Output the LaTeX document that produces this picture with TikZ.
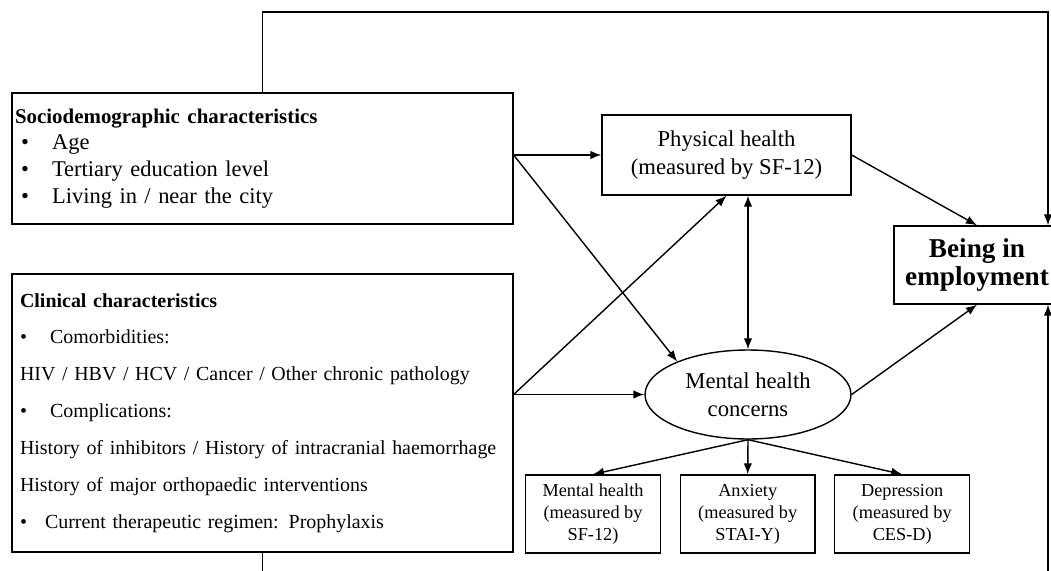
\documentclass[tikz,border=0pt]{standalone}
\usepackage{fontspec}
\setmainfont{Liberation Serif}
\usetikzlibrary{arrows.meta}
\usetikzlibrary{positioning,shapes.geometric}
\tikzset{
	rectnode/.style={rectangle, draw, line width=0.8pt, inner sep=0pt},
	roundnode/.style={ellipse, draw, line width=0.8pt, inner sep=0pt, minimum width=4.12cm, minimum height=1.78cm},
	arr/.style={-{Latex[length=0.22cm,width=0.17cm]}, line width=0.8pt},
	dblarr/.style={{Latex[length=0.22cm,width=0.17cm]}-{Latex[length=0.22cm,width=0.17cm]}, line width=0.8pt},
	midfont/.style={font=\fontsize{12.9pt}{16pt}\selectfont},
	smallfont/.style={font=\fontsize{10.4pt}{12.5pt}\selectfont}
}
\newcommand{\bul}[1]{\makebox[#1][l]{\textbullet}}

\begin{document}
\begin{tikzpicture}[x=0.02cm, y=-0.02cm]
	\useasboundingbox (0,0) rectangle (1051,571);
	\clip (0,0) rectangle (1051,571);
	\fill[white] (0,0) rectangle (1051,571);

	% left boxes
	\node[rectnode, text width=9.9cm, inner xsep=0.06cm, minimum height=2.62cm, align=left,
		font=\fontsize{12.8pt}{15.3pt}\selectfont] at (262.5,158.5) (soc)
		{{\bfseries\fontsize{11.9pt}{15.3pt}\selectfont Sociodemographic characteristics}\\
		\hspace*{0.12cm}\bul{0.62cm}Age\\
		\hspace*{0.12cm}\bul{0.62cm}Tertiary education level\\
		\hspace*{0.12cm}\bul{0.62cm}Living in / near the city};
	\node[rectnode, text width=9.7cm, inner xsep=0.16cm, minimum height=5.56cm, align=left,
		font=\fontsize{11.35pt}{21pt}\selectfont] at (262.5,413) (clin)
		{\textbf{Clinical characteristics}\\
		\bul{0.6cm}Comorbidities:\\
		HIV / HBV / HCV / Cancer / Other chronic pathology\\
		\bul{0.6cm}Complications:\\
		\mbox{History of inhibitors / History of intracranial haemorrhage}\\
		History of major orthopaedic interventions\\
		\bul{0.5cm}Current therapeutic regimen: Prophylaxis};

	% health nodes
	\node[rectnode, midfont, align=center, minimum width=4.98cm, minimum height=1.6cm] at (726.5,155) (phys)
		{Physical health\\(measured by SF-12)};
	\node[roundnode, midfont, align=center] at (748,394.5) (mh) {Mental health\\concerns};
	\node[rectnode, align=center, minimum width=3.32cm, minimum height=1.56cm,
		font=\bfseries\fontsize{15.5pt}{15.9pt}\selectfont] at (977,265) (emp) {Being in\\employment};

	\node[rectnode, smallfont, align=center, minimum width=2.7cm, minimum height=1.56cm] at (593,514) (mhsf)
		{Mental health\\(measured by\\SF-12)};
	\node[rectnode, smallfont, align=center, minimum width=2.7cm, minimum height=1.56cm] at (747.7,514) (anx)
		{Anxiety\\(measured by\\STAI-Y)};
	\node[rectnode, smallfont, align=center, minimum width=2.7cm, minimum height=1.56cm] at (902.2,514) (dep)
		{Depression\\(measured by\\CES-D)};

	\coordinate (socout) at (soc.east |- phys.west);
	\coordinate (clinout) at (clin.east |- mh.west);
	\coordinate (rtop) at (1048,12);
	\coordinate (rbot) at (1048,600);

	\draw[arr] (socout) -- (phys.west);
	\draw[arr] (socout) -- (mh.155);
	\draw[arr] (clinout) -- (mh.west);
	\draw[arr] (clinout) -- (phys.south);
	\draw[dblarr] (mh.north) -- (mh.north |- phys.south);
	\draw[arr] (phys.east) -- (emp.north);
	\draw[arr] (mh.east) -- (emp.south);
	\foreach \b in {mhsf, anx, dep}
		\draw[arr] (mh.south) -- (\b.north);

	% loops round the outside
	\draw[arr] (soc.north) |- (rtop) -- (rtop |- emp.north);
	\draw[arr] (clin.south) |- (rbot) -- (rbot |- emp.south);
\end{tikzpicture}
\end{document}
